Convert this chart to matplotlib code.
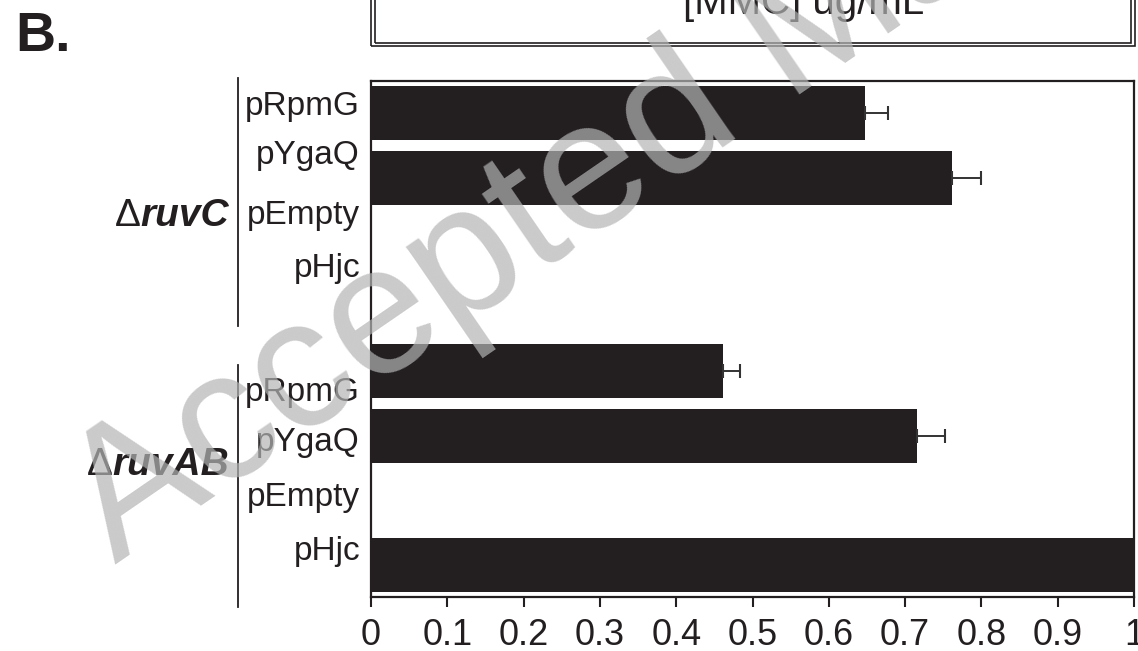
import numpy as np
import matplotlib
matplotlib.use("Agg")
import matplotlib.pyplot as plt
from matplotlib.patches import Rectangle
from matplotlib.transforms import blended_transform_factory

plt.rcParams['font.family'] = ['Liberation Sans', 'DejaVu Sans']

# data
strains = ['ruvC', 'ruvAB']
plasmids = ['pRpmG', 'pYgaQ', 'pEmpty', 'pHjc']
ruvC_vals = [0.647, 0.761, 0.0, 0.0]
ruvC_err = [0.031, 0.039, 0.0, 0.0]
ruvAB_vals = [0.461, 0.716, 0.0, 1.0]
ruvAB_err = [0.023, 0.036, 0.0, 0.0]
xticks = [0, 0.1, 0.2, 0.3, 0.4, 0.5, 0.6, 0.7, 0.8, 0.9, 1]
xticklabels = ['0', '0.1', '0.2', '0.3', '0.4', '0.5', '0.6', '0.7', '0.8', '0.9', '1']

W, H = 1138, 651
ink = '#231f20'
fig = plt.figure(figsize=(W / 100, H / 100), dpi=100)
ax = fig.add_axes([371 / W, 1 - 597 / H, 763 / W, 516 / H])

vals = np.array(ruvC_vals + ruvAB_vals)
errs = np.array(ruvC_err + ruvAB_err)
ypos = np.arange(len(vals))
ax.barh(ypos, vals, height=0.83, color=ink, zorder=2)
has_err = errs > 0
ax.errorbar(vals[has_err], ypos[has_err],
            xerr=[np.zeros(has_err.sum()), errs[has_err]],
            fmt='none', ecolor='#333333', elinewidth=1.4, capsize=4.8,
            capthick=1.5, zorder=3)

ax.set_xlim(0, 1)
ax.set_ylim(len(vals) - 0.5, -0.5)
ax.set_xticks(xticks)
ax.set_xticklabels(xticklabels, fontsize=26)
ax.set_yticks([])
ax.tick_params(axis='x', direction='out', length=7, width=1.5, pad=8,
               colors=ink)
for sp in ax.spines.values():
    sp.set_linewidth(1.6)
    sp.set_color(ink)

# plasmid labels (placed independently of the bar slots, as in the figure)
label_y = [[-0.11, 0.66, 1.59, 2.40], [4.33, 5.11, 5.96, 6.80]]
group_y = [1.59, 5.46]
bracket_y = [[-0.55, 3.3], [3.9, 7.65]]
tr = blended_transform_factory(ax.transAxes, ax.transData)
for g, strain in enumerate(strains):
    for p, name in enumerate(plasmids):
        ax.text(-11 / 763, label_y[g][p], name, transform=tr, ha='right',
                va='center', fontsize=24, color=ink)
    t = ax.text(-142 / 763, group_y[g], strain, transform=tr, ha='right',
                va='center', fontsize=28, color=ink,
                fontweight='bold', fontstyle='italic')
    ax.annotate('\u0394', xy=(0, 0), xycoords=t, ha='right', va='bottom',
                fontsize=28, color=ink)
    ax.plot([-133 / 763] * 2, bracket_y[g], transform=tr, color=ink,
            lw=1.3, clip_on=False)

# panel letter
fig.text(15 / W, 1 - 51 / H, 'B.', fontsize=40, fontweight='bold',
         color=ink, ha='left', va='baseline')

# top box (cut off at the top of the figure)
fig.add_artist(Rectangle((371 / W, 1 - 46 / H), 764 / W, 80 / H,
                         transform=fig.transFigure, fill=False,
                         ec=ink, lw=1.2))
fig.add_artist(Rectangle((375 / W, 1 - 43 / H), 756 / W, 80 / H,
                         transform=fig.transFigure, fill=False,
                         ec=ink, lw=1.2))
fig.text(804 / W, 1 - 14 / H, '[MMC] ug/mL', fontsize=29, color=ink,
         ha='center', va='baseline')

# watermark
fig.text(115 / W, 1 - 565 / H, 'Accepted Manuscript', fontsize=132,
         color='#b4b4b4', alpha=0.7, rotation=34.5, rotation_mode='anchor',
         ha='left', va='baseline', zorder=10)

fig.savefig('out.png', dpi=100)
